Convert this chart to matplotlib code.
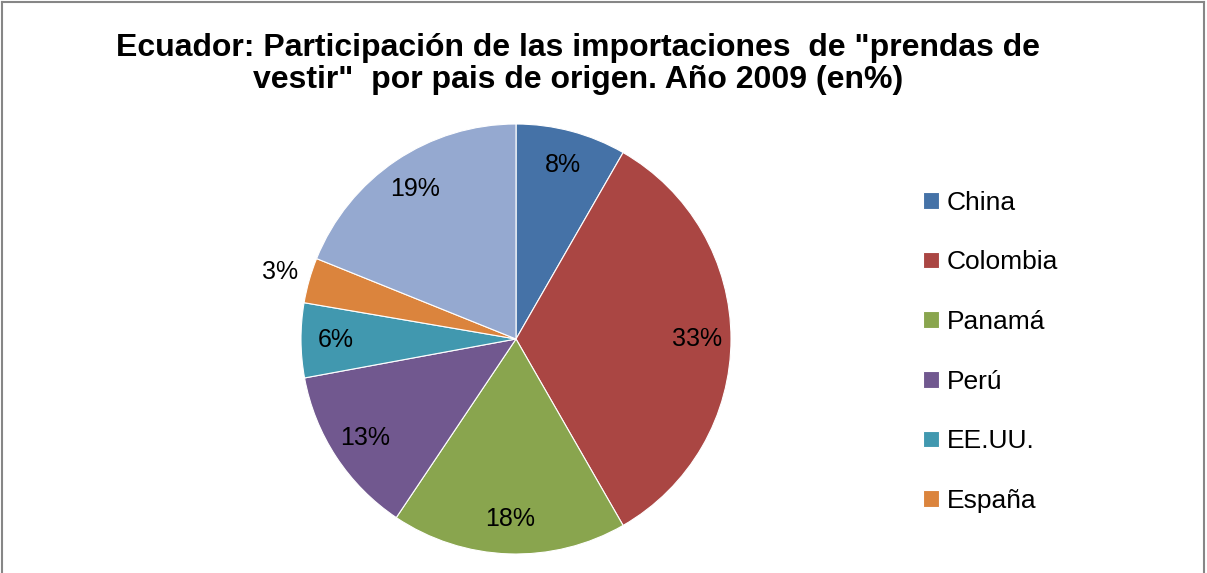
import numpy as np
import matplotlib
matplotlib.use("Agg")
import matplotlib.pyplot as plt
from matplotlib.lines import Line2D

# datos (participacion en %)
paises = ["China", "Colombia", "Panamá", "Perú", "EE.UU.", "España", "Otros"]
valores = [8.3, 33.4, 17.7, 12.7, 5.6, 3.4, 18.9]
etiquetas = ["8%", "33%", "18%", "13%", "6%", "3%", "19%"]
colores = ["#4572A7", "#AA4643", "#89A54E", "#71588F", "#4198AF", "#DB843D", "#95A9D0"]

plt.rcParams['font.family'] = ['Liberation Sans', 'DejaVu Sans']

W, H = 1207, 573
fig = plt.figure(figsize=(W / 100, H / 100), dpi=100)

# pastel: centro (516, 339), radio 215 px
cx, cy, r = 516, 339, 215
ax = fig.add_axes([(cx - r) / W, (H - cy - r) / H, 2 * r / W, 2 * r / H])
wedges, _ = ax.pie(valores, colors=colores, startangle=90, counterclock=False,
                   wedgeprops=dict(edgecolor="white", linewidth=0.8))
ax.set_xlim(-1, 1)
ax.set_ylim(-1, 1)
ax.set_aspect("equal")
ax.axis("off")

for w, txt in zip(wedges, etiquetas):
    ang = np.deg2rad((w.theta1 + w.theta2) / 2)
    d = 1.14 if txt == "3%" else 0.84
    ax.text(d * np.cos(ang), d * np.sin(ang), txt, ha="center", va="center",
            fontsize=18, clip_on=False)

fig.text(0.479, 1 - 64 / H, 'Ecuador: Participación de las importaciones  de "prendas de\n'
         'vestir"  por pais de origen. Año 2009 (en%)',
         ha="center", va="center", fontsize=23, fontweight="bold", linespacing=1.05)

leg = fig.legend(wedges[:6], paises[:6], loc="upper left",
                 bbox_to_anchor=(899 / W, 1 - 167 / H), frameon=False,
                 fontsize=19, handlelength=0.6, handleheight=0.6,
                 handletextpad=0.3, labelspacing=1.35)

# marco gris del grafico
for xs, ys in [([0.002, 0.002], [0, 0.997]), ([0.002, 0.9975], [0.997, 0.997]),
               ([0.9975, 0.9975], [0, 0.997])]:
    fig.add_artist(Line2D(xs, ys, color="#868686", linewidth=1.5, transform=fig.transFigure))

fig.savefig("out.png", dpi=100, facecolor="white")
